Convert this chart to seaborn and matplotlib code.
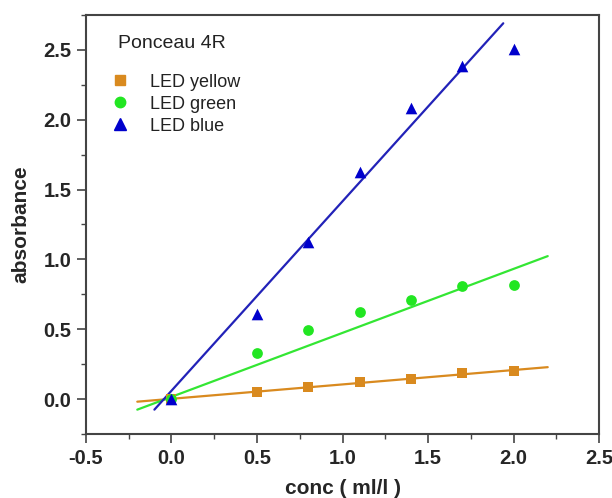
import numpy as np
import pandas as pd
import matplotlib
matplotlib.use("Agg")
import matplotlib.pyplot as plt
import seaborn as sns
from matplotlib.ticker import MultipleLocator

# ---- data ----
conc = [0.0, 0.5, 0.8, 1.1, 1.4, 1.7, 2.0]
series = ["LED yellow", "LED green", "LED blue"]
abs_yellow = [0.0, 0.05, 0.088, 0.119, 0.147, 0.188, 0.202]
abs_green = [0.0, 0.329, 0.493, 0.621, 0.711, 0.809, 0.816]
abs_blue = [0.0, 0.607, 1.122, 1.626, 2.086, 2.388, 2.507]
# linear fits (slope, intercept) and drawn x-range
fit_slope = [0.103, 0.458, 1.356]
fit_intercept = [0.002, 0.016, 0.060]
fit_xmin = [-0.2, -0.2, -0.1]
fit_xmax = [2.2, 2.2, 1.94]
title = "Ponceau 4R"

colors = {"LED yellow": "#D98A1F", "LED green": "#22E622", "LED blue": "#0000CC"}
line_colors = {"LED yellow": "#D98A1F", "LED green": "#33E633", "LED blue": "#2222B8"}
markers = {"LED yellow": "s", "LED green": "o", "LED blue": "^"}
sizes = {"LED yellow": 45, "LED green": 60, "LED blue": 70}
leg_ms = {"LED yellow": 6.5, "LED green": 7.5, "LED blue": 8.5}

df = pd.DataFrame({
    "conc": conc * 3,
    "absorbance": abs_yellow + abs_green + abs_blue,
    "series": [s for s in series for _ in conc],
})

fit_rows = []
for s, m, b, x0, x1 in zip(series, fit_slope, fit_intercept, fit_xmin, fit_xmax):
    for x in (x0, x1):
        fit_rows.append({"conc": x, "absorbance": m * x + b, "series": s})
fit_df = pd.DataFrame(fit_rows)

sns.set_style("ticks")
plt.rcParams["font.family"] = ["Liberation Sans", "DejaVu Sans"]
plt.rcParams["axes.unicode_minus"] = False

fig = plt.figure(figsize=(6.12, 4.98), dpi=100)
ax = fig.add_axes([0.1405, 0.1285, 0.9788 - 0.1405, 0.9699 - 0.1285])

for s in series:
    sub = fit_df[fit_df.series == s]
    sns.lineplot(data=sub, x="conc", y="absorbance", color=line_colors[s],
                 linewidth=1.6, ax=ax, legend=False, zorder=2)

handles = []
for s in series:
    sub = df[df.series == s]
    sns.scatterplot(data=sub, x="conc", y="absorbance", color=colors[s],
                    marker=markers[s], s=sizes[s], linewidth=0, ax=ax,
                    zorder=3, legend=False)
    h = plt.Line2D([], [], linestyle="none", marker=markers[s], color=colors[s],
                   markersize=leg_ms[s], label=s)
    handles.append(h)

ax.set_xlim(-0.5, 2.5)
ax.set_ylim(-0.25, 2.75)
ax.xaxis.set_major_locator(MultipleLocator(0.5))
ax.xaxis.set_minor_locator(MultipleLocator(0.25))
ax.yaxis.set_major_locator(MultipleLocator(0.5))
ax.yaxis.set_minor_locator(MultipleLocator(0.25))
ax.tick_params(which="major", direction="out", length=6.5, width=1.2, color="#444444",
               labelsize=14.5, top=False, right=False)
ax.tick_params(which="minor", direction="out", length=3.8, width=1.0, color="#444444",
               top=False, right=False)
ax.tick_params(axis="x", which="major", pad=4.5)
ax.tick_params(axis="y", which="major", pad=4)
for lab in ax.get_xticklabels() + ax.get_yticklabels():
    lab.set_fontweight("bold")
for sp in ax.spines.values():
    sp.set_visible(True)
    sp.set_linewidth(1.5)
    sp.set_color("#444444")

ax.set_xlabel("conc ( ml/l )", fontsize=15, fontweight="bold", labelpad=8)
ax.set_ylabel("absorbance", fontsize=15, fontweight="bold", labelpad=9)

ax.text(0.0624, 0.932, title, transform=ax.transAxes, fontsize=14,
        ha="left", va="center", color="#222222")

leg = ax.legend(handles=handles, loc="upper left",
                bbox_to_anchor=(0.056, 0.860), frameon=False, fontsize=13,
                handlelength=0.6, handletextpad=1.37, labelspacing=0.28,
                borderaxespad=0, borderpad=0)
for t in leg.get_texts():
    t.set_color("#222222")

fig.savefig("out.png", dpi=100)
